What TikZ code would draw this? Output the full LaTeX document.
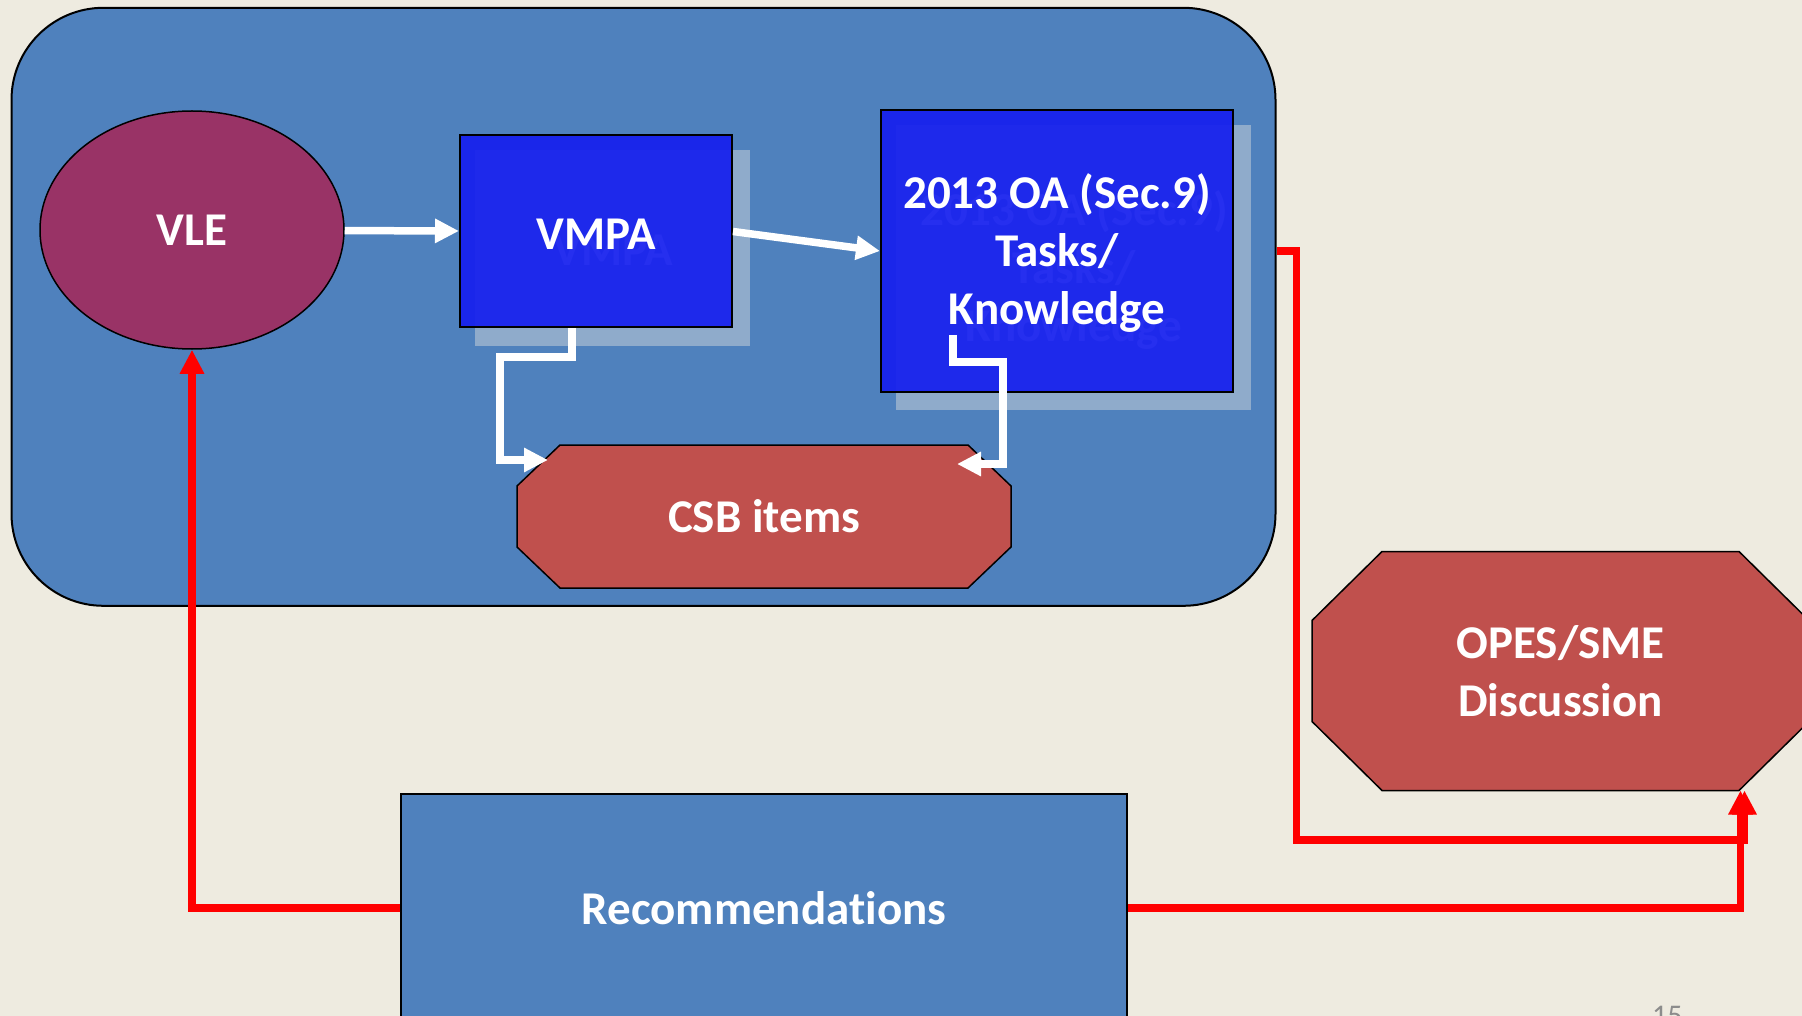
\documentclass[tikz,border=0pt]{standalone}
\usepackage{fontspec}
\setmainfont{Carlito}[Ligatures=NoCommon]
\usetikzlibrary{arrows.meta,shapes.geometric}

\definecolor{paper}{RGB}{238,235,224}
\definecolor{panelblue}{RGB}{79,129,189}
\definecolor{vlered}{RGB}{153,51,102}
\definecolor{boxblue}{RGB}{22,32,238}
\definecolor{shadowc}{RGB}{143,171,203}
\definecolor{octred}{RGB}{192,80,77}
\definecolor{pagegray}{RGB}{140,140,140}

\tikzset{
  labeltext/.style={text=white, font=\fontsize{47}{58}\selectfont\bfseries, align=center},
  panel/.style={draw=black, line width=2pt, fill=panelblue, rounded corners=92pt},
  bluebox/.style={labeltext, draw=black, line width=2pt, fill=boxblue, fill opacity=0.93, text opacity=1},
  ghost/.style={labeltext},
  octshape/.style={draw=black, line width=1.5pt, fill=octred},
  flow/.style={draw=white, line width=7.5pt, -{Triangle[width=23pt,length=24pt]}},
  feedback/.style={draw=red, line width=7.5pt, -{Triangle[width=23pt,length=24pt]}}
}

\begin{document}
\begin{tikzpicture}[x=1pt,y=-1pt]

\clip (0,0) rectangle (1802,1016);
\fill[paper] (0,0) rectangle (1802,1016);

\node[panel, minimum width=1264pt, minimum height=598pt] (panel) at (643.5,306.8) {};

\node[ellipse, draw=black, line width=1.5pt, fill=vlered, labeltext, inner sep=0pt,
  minimum width=304pt, minimum height=238pt] (vle) at (192,230) {VLE};

% boxes, each with its shadow behind it
\foreach \nm/\x/\y/\w/\h/\txt in {vmpa/596/231.5/272/192/{VMPA},
  oa/1057/251/352/282/{2013 OA (Sec.9)\\Tasks/\\Knowledge}}
{
  \fill[shadowc] (\x-\w/2+15, \y-\h/2+15) rectangle (\x+\w/2+18, \y+\h/2+18);
  \node[ghost] (\nm-ghost) at (\x+17, \y+19) {\txt};
  \node[bluebox, minimum width=\w pt, minimum height=\h pt] (\nm) at (\x,\y) {};
  \node[labeltext] (\nm-text) at (\x, \y+2.5) {\txt};
}

% octagons: centre, size, corner cut
\foreach \nm/\x/\y/\w/\h/\cx/\cy/\txt in {csb/764/516.5/494/143/43/41/{CSB items},
  opes/1560.5/671/497/239/70/69/{OPES/SME\\Discussion}}
{
  \filldraw[octshape] (\x-\w/2+\cx, \y-\h/2) -- (\x+\w/2-\cx, \y-\h/2) -- (\x+\w/2, \y-\h/2+\cy)
    -- (\x+\w/2, \y+\h/2-\cy) -- (\x+\w/2-\cx, \y+\h/2) -- (\x-\w/2+\cx, \y+\h/2)
    -- (\x-\w/2, \y+\h/2-\cy) -- (\x-\w/2, \y-\h/2+\cy) -- cycle;
  \node[labeltext, minimum width=\w pt, minimum height=\h pt] (\nm) at (\x,\y) {\txt};
}

\node[draw=black, line width=1.5pt, fill=panelblue, labeltext,
  minimum width=726pt, minimum height=228pt] (rec) at (764,908) {Recommendations};

% white flow
\draw[flow] (vle) -- (vmpa);
\draw[flow] (vmpa.east) -- (oa.west);
\draw[flow] ([xshift=-24pt]vmpa.south) |- ++(-72,28.5) |- ([shift={(-216,-56.5)}]csb.center);
\draw[flow] ([shift={(-104,84)}]oa.center) |- ++(50,27) |- ([shift={(193,-52.5)}]csb.center);

% red feedback
\draw[feedback] (rec.west) -| (vle.south);
\draw[feedback] (panel.east |- oa) -| ++(20,589) -| ([shift={(184,119.5)}]opes.center);
\draw[feedback] (rec.east) -| ([shift={(180,119.5)}]opes.center);

\node[text=pagegray, font=\fontsize{30}{30}\selectfont, anchor=north west, inner sep=0pt] (pagenum) at (1652,1006) {15};

\end{tikzpicture}
\end{document}
